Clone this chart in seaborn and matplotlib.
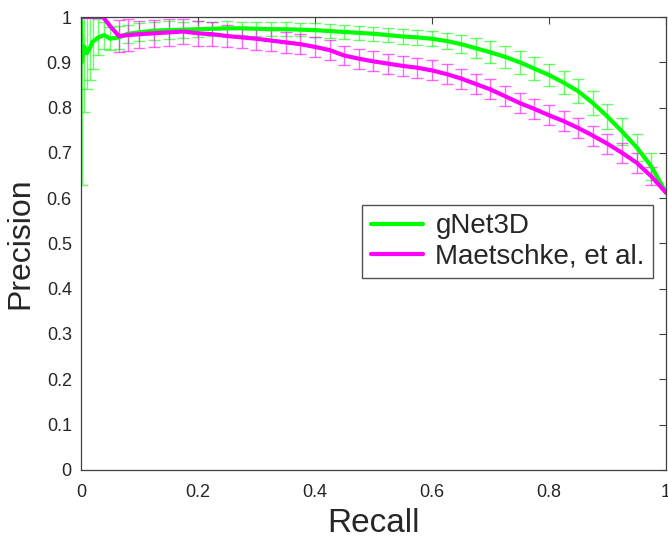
import numpy as np
import pandas as pd
import seaborn as sns
import matplotlib
matplotlib.use("Agg")
import matplotlib.pyplot as plt

# gNet3D precision / recall (mean and std)
g_recall = [0.0, 0.002, 0.006, 0.01, 0.015, 0.02, 0.03, 0.04, 0.05, 0.065, 0.08,
            0.1, 0.125, 0.15, 0.175, 0.2, 0.225, 0.25, 0.275, 0.3, 0.325, 0.35,
            0.375, 0.4, 0.425, 0.45, 0.475, 0.5, 0.525, 0.55, 0.575, 0.6, 0.625,
            0.65, 0.675, 0.7, 0.725, 0.75, 0.775, 0.8, 0.825, 0.85, 0.875, 0.9,
            0.925, 0.95, 0.975, 1.0]
g_prec = [1.0, 0.90, 0.935, 0.92, 0.93, 0.945, 0.955, 0.96, 0.952, 0.955, 0.963,
          0.966, 0.970, 0.971, 0.972, 0.973, 0.974, 0.975, 0.975, 0.974, 0.973, 0.973,
          0.972, 0.971, 0.969, 0.967, 0.965, 0.963, 0.960, 0.957, 0.955, 0.952, 0.947,
          0.940, 0.931, 0.922, 0.912, 0.900, 0.886, 0.872, 0.855, 0.836, 0.810, 0.780,
          0.747, 0.712, 0.670, 0.612]
g_err = [0.0, 0.27, 0.145, 0.08, 0.07, 0.06, 0.04, 0.03, 0.025, 0.025, 0.02,
         0.02, 0.02, 0.02, 0.018, 0.018, 0.016, 0.016, 0.015, 0.015, 0.015, 0.015,
         0.015, 0.015, 0.015, 0.015, 0.015, 0.015, 0.015, 0.016, 0.016, 0.017, 0.018,
         0.02, 0.022, 0.024, 0.025, 0.025, 0.025, 0.025, 0.026, 0.026, 0.027, 0.028,
         0.03, 0.03, 0.03, 0.0]

# Maetschke, et al.
m_recall = [0.0, 0.02, 0.038, 0.05, 0.065, 0.08, 0.1, 0.125, 0.15, 0.175, 0.2,
            0.225, 0.25, 0.275, 0.3, 0.325, 0.35, 0.375, 0.4, 0.425, 0.45, 0.475,
            0.5, 0.525, 0.55, 0.575, 0.6, 0.625, 0.65, 0.675, 0.7, 0.725, 0.75,
            0.775, 0.8, 0.825, 0.85, 0.875, 0.9, 0.925, 0.95, 0.975, 1.0]
m_prec = [1.0, 1.0, 1.0, 0.98, 0.958, 0.960, 0.962, 0.964, 0.966, 0.968, 0.964,
          0.962, 0.958, 0.955, 0.952, 0.948, 0.944, 0.940, 0.934, 0.927, 0.915, 0.908,
          0.902, 0.897, 0.892, 0.888, 0.882, 0.874, 0.864, 0.852, 0.840, 0.825, 0.810,
          0.797, 0.783, 0.770, 0.755, 0.738, 0.720, 0.700, 0.678, 0.648, 0.612]
m_err = [0.0, 0.0, 0.0, 0.0, 0.035, 0.035, 0.03, 0.03, 0.03, 0.028, 0.028,
         0.026, 0.025, 0.024, 0.024, 0.023, 0.023, 0.022, 0.022, 0.022, 0.022, 0.022,
         0.022, 0.022, 0.022, 0.022, 0.022, 0.022, 0.022, 0.022, 0.022, 0.022, 0.022,
         0.022, 0.022, 0.022, 0.022, 0.022, 0.022, 0.022, 0.022, 0.02, 0.0]

labels = ["gNet3D", "Maetschke, et al."]
colors = ["#00ff00", "#ff00ff"]
xtick_labels = ["0", "0.2", "0.4", "0.6", "0.8", "1"]
ytick_labels = ["0", "0.1", "0.2", "0.3", "0.4", "0.5", "0.6", "0.7", "0.8", "0.9", "1"]

sns.set_style("white")
plt.rcParams["font.family"] = ["Liberation Sans", "DejaVu Sans"]

df = pd.concat([
    pd.DataFrame({"Recall": g_recall, "Precision": g_prec, "err": g_err, "method": labels[0]}),
    pd.DataFrame({"Recall": m_recall, "Precision": m_prec, "err": m_err, "method": labels[1]}),
])

fig = plt.figure(figsize=(6.68, 5.40), dpi=100)
ax = fig.add_axes([0.121, 0.13, 0.876, 0.8385])

# error bars first so the thick lines sit on top
for name, col in zip(labels, colors):
    sub = df[(df["method"] == name) & (df["err"] > 0)]
    ax.errorbar(sub["Recall"], sub["Precision"], yerr=sub["err"], fmt="none",
                ecolor=col, alpha=0.6, elinewidth=1.0, capsize=4, capthick=1.0)

sns.lineplot(data=df, x="Recall", y="Precision", hue="method", palette=colors,
             hue_order=labels, estimator=None, sort=False, linewidth=3, ax=ax)

ax.set_xlim(0, 1)
ax.set_ylim(0, 1)
ax.set_xticks(np.arange(0, 1.01, 0.2))
ax.set_xticklabels(xtick_labels)
ax.set_yticks(np.arange(0, 1.01, 0.1))
ax.set_yticklabels(ytick_labels)
ax.tick_params(direction="in", length=5, width=0.8, colors="#404040",
               labelsize=13, labelcolor="#262626", top=True, right=True)
ax.tick_params(axis="x", pad=10)
ax.tick_params(axis="y", pad=6.5)
for s in ax.spines.values():
    s.set_color("#404040")
    s.set_linewidth(0.9)

ax.set_xlabel("Recall", fontsize=24, color="#262626", labelpad=5)
ax.set_ylabel("Precision", fontsize=23, color="#262626", labelpad=8)

leg = ax.legend(loc="upper right", bbox_to_anchor=(0.978, 0.585), fontsize=20,
                frameon=True, fancybox=False, edgecolor="#262626",
                handlelength=1.9, handletextpad=0.43, borderpad=0.3, labelspacing=0.15,
                borderaxespad=0)
leg.get_frame().set_linewidth(1.0)
for line in leg.get_lines():
    line.set_linewidth(3)

fig.savefig("out.png", dpi=100)
